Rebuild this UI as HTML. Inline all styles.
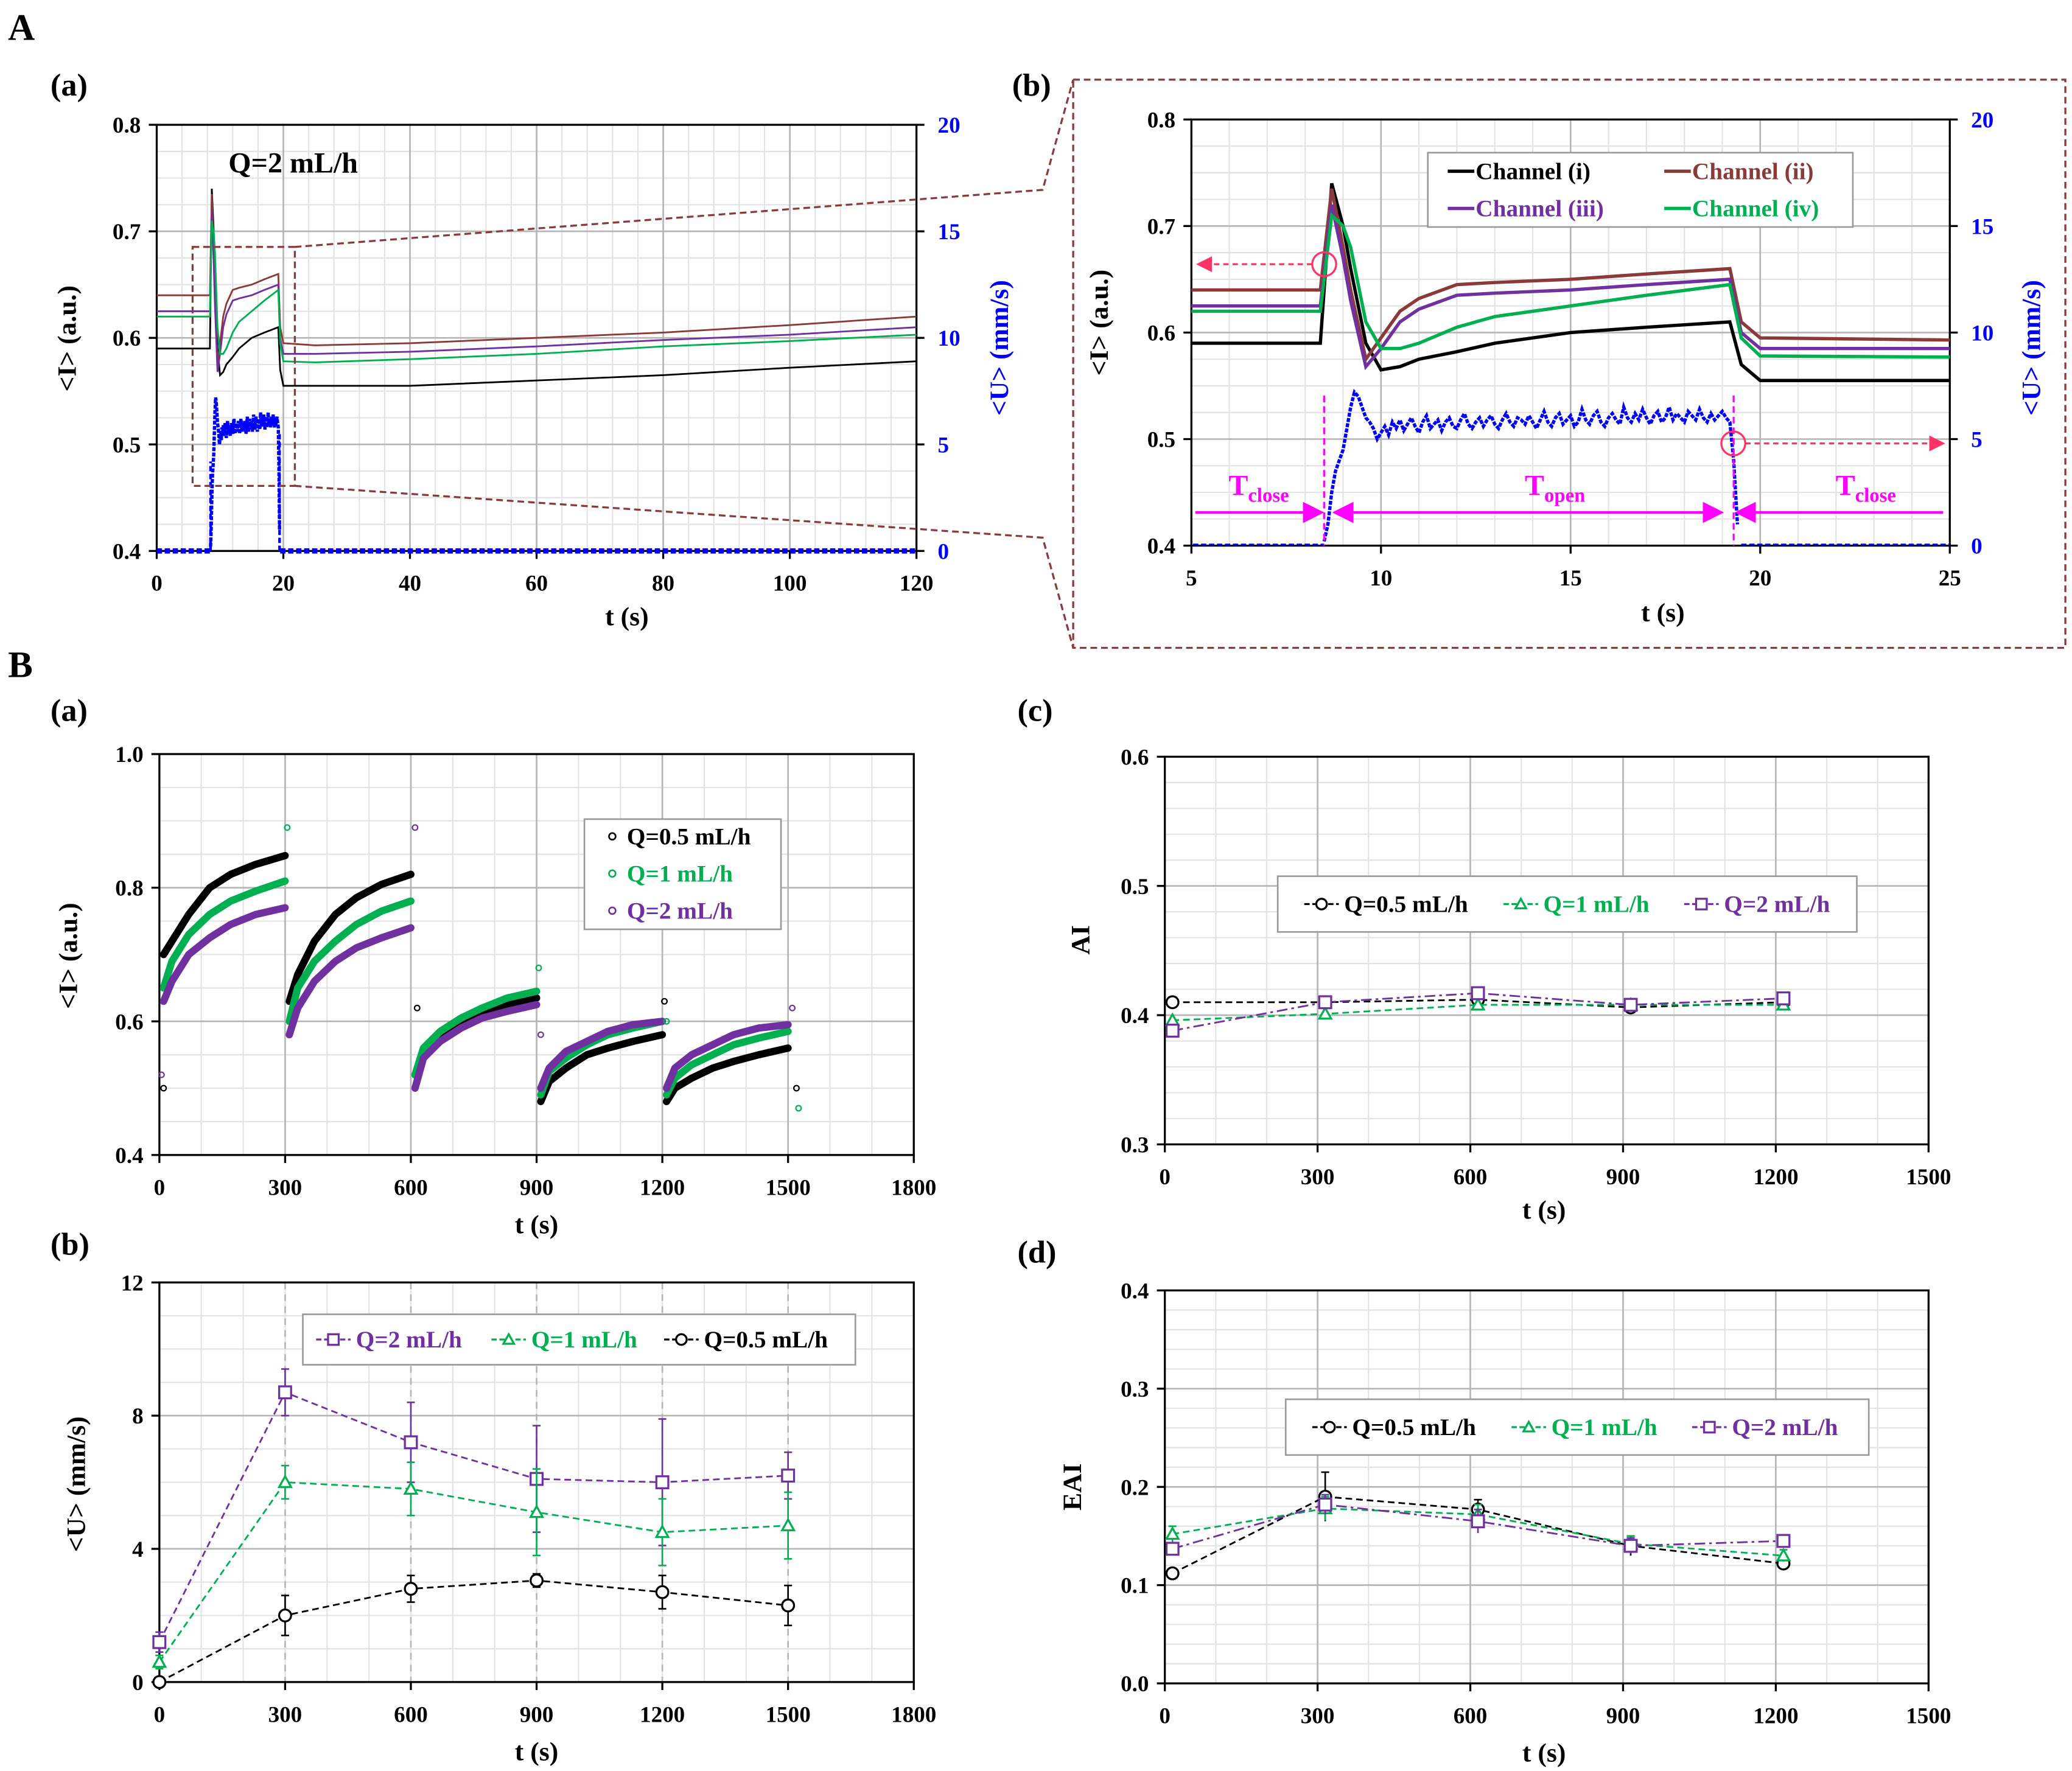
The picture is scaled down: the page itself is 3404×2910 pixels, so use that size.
<!DOCTYPE html>
<html><head><meta charset="utf-8">
<style>
html,body{margin:0;padding:0;background:#fff;}
svg{display:block;font-family:"Liberation Serif",serif;font-weight:bold;}
</style></head>
<body>
<svg id="fig" xmlns="http://www.w3.org/2000/svg" width="3404" height="2910" viewBox="0 0 1560 1334" preserveAspectRatio="none">
<rect x="0" y="0" width="1560" height="1334" fill="#fff"/>
<g font-size="24">
<text x="6" y="30" font-size="28">A</text>
<text x="38" y="72">(a)</text>
<text x="762" y="72">(b)</text>
<text x="6" y="510" font-size="28">B</text>
<text x="38" y="543">(a)</text>
<text x="766" y="543">(c)</text>
<text x="38" y="945">(b)</text>
<text x="766" y="951">(d)</text>
</g>
</svg>
<script>
// ---------- DATA ----------
const chanTimes = [0,8.4,8.7,9.0,9.2,9.6,10,10.5,11,12,13,15,17,19.2,19.5,20,25,40,60,80,100,120];
const chan1 = [0.59,0.59,0.74,0.70,0.66,0.59,0.565,0.568,0.575,0.582,0.59,0.60,0.605,0.61,0.57,0.555,0.555,0.555,0.56,0.565,0.572,0.578];
const chan2 = [0.64,0.64,0.735,0.68,0.64,0.575,0.595,0.62,0.632,0.645,0.647,0.65,0.655,0.66,0.61,0.595,0.593,0.595,0.60,0.605,0.612,0.62];
const chan3 = [0.625,0.625,0.72,0.67,0.63,0.568,0.585,0.61,0.622,0.635,0.637,0.64,0.645,0.65,0.60,0.585,0.585,0.587,0.592,0.598,0.603,0.61];
const chan4 = [0.62,0.62,0.71,0.70,0.68,0.61,0.585,0.585,0.59,0.605,0.615,0.625,0.635,0.645,0.595,0.578,0.577,0.58,0.585,0.592,0.597,0.603];
const uStart = 8.5, uStep = 0.1;
const uValues = [0.2,1,2.5,3.5,4,4.5,5.5,6.5,7.2,7,6.5,6,5.8,5.5,5,5.3,5.6,5.2,5.8,5.5,5.9,5.4,5.7,6,5.6,5.3,5.8,6.1,5.5,5.7,5.9,5.4,5.8,6,5.6,5.5,5.9,6.2,5.7,5.5,5.8,6,5.6,5.9,6.1,5.7,5.5,5.9,6.2,5.8,5.6,6,5.9,5.7,6.1,5.8,5.5,5.9,6.3,5.8,5.6,6,6.2,5.7,5.9,6.1,5.6,5.8,6.4,5.9,5.7,6.1,6.3,5.8,5.6,6,6.2,5.9,5.7,6.5,6,5.8,6.2,5.9,6.4,6,5.7,6.1,6.3,5.8,6,6.5,5.9,6.2,6,5.8,6.3,6.1,5.9,6.4,6,5.8,6.2,5.9,6.1,6.3,6,5.8,4,1];
const zeroSegs = [[0,8.5],[19.5,120]];

const segStarts = [0,300,600,900,1200];
const segOffsets = [10,30,70,120,170,230,300];
const baBlack = [[0.70,0.72,0.76,0.80,0.82,0.835,0.848],[0.63,0.67,0.72,0.76,0.785,0.805,0.82],[0.52,0.55,0.575,0.595,0.61,0.625,0.635],[0.48,0.51,0.53,0.55,0.56,0.57,0.58],[0.48,0.50,0.515,0.53,0.54,0.55,0.56]];
const baGreen = [[0.65,0.69,0.73,0.76,0.78,0.795,0.81],[0.60,0.65,0.69,0.72,0.745,0.765,0.78],[0.52,0.56,0.585,0.605,0.62,0.635,0.645],[0.49,0.525,0.545,0.565,0.58,0.59,0.60],[0.49,0.515,0.535,0.55,0.565,0.575,0.585]];
const baPurple = [[0.63,0.66,0.70,0.725,0.745,0.76,0.77],[0.58,0.62,0.66,0.69,0.71,0.725,0.74],[0.50,0.545,0.57,0.59,0.605,0.615,0.625],[0.50,0.53,0.555,0.57,0.585,0.595,0.60],[0.50,0.53,0.55,0.565,0.58,0.59,0.595]];
const baOutT = [5,10,305,610,615,905,910,1205,1210,1510,1520,1525];
const baOutV = [0.52,0.50,0.89,0.89,0.62,0.68,0.58,0.63,0.60,0.62,0.50,0.47];

const bbT = [0,300,600,900,1200,1500];
const bbQ2 = [1.2,8.7,7.2,6.1,6.0,6.2];
const bbQ2e = [0.3,0.7,1.2,1.6,1.9,0.7];
const bbQ1 = [0.6,6.0,5.8,5.1,4.5,4.7];
const bbQ1e = [0.2,0.5,0.8,1.3,1.0,1.0];
const bbQ05 = [0,2.0,2.8,3.05,2.7,2.3];
const bbQ05e = [0,0.6,0.4,0.2,0.5,0.6];

const cdT = [15,315,615,915,1215];
const bcQ05 = [0.41,0.41,0.412,0.406,0.41];
const bcQ1 = [0.396,0.401,0.408,0.408,0.408];
const bcQ2 = [0.388,0.41,0.417,0.408,0.413];
const bdQ05 = [0.112,0.19,0.177,0.14,0.122];
const bdQ05e = [0,0.025,0.01,0.01,0.005];
const bdQ1 = [0.152,0.178,0.172,0.142,0.13];
const bdQ1e = [0.008,0.012,0.01,0.008,0.006];
const bdQ2 = [0.137,0.182,0.165,0.14,0.145];
const bdQ2e = [0.006,0.01,0.012,0.008,0.006];

// ---------- HELPERS ----------
const NS = 'http://www.w3.org/2000/svg';
const svg = document.getElementById('fig');
const BLACK='#000', GREEN='#00b050', PURPLE='#7030a0', BROWN='#8b3a3a', BLUE='#0000ff', MAG='#ff00ff', RED='#c0504d';
function mk(tag, attrs, parent, name) {
  const e = document.createElementNS(NS, tag);
  for (const k in attrs) e.setAttribute(k, attrs[k]);
  
  
  (parent || svg).appendChild(e);
  return e;
}
function txt(x, y, s, size, parent, name, extra) {
  const a = Object.assign({x:x, y:y, 'font-size':size}, extra || {});
  const t = mk('text', a, parent, name);
  t.textContent = s;
  return t;
}
function axes(c) {
  const g = mk('g', {}, svg, c.name);
  const sx = v => c.x0 + (v - c.xmin) / (c.xmax - c.xmin) * (c.x1 - c.x0);
  const sy = v => c.y1 - (v - c.ymin) / (c.ymax - c.ymin) * (c.y1 - c.y0);
  // minor grid
  for (let v = c.xmin; v <= c.xmax + 1e-9; v += c.xminor) mk('line', {x1:sx(v), x2:sx(v), y1:c.y0, y2:c.y1, stroke:'#e3e3e3', 'stroke-width':1}, g, 'x-minor-grid');
  for (let v = c.ymin; v <= c.ymax + 1e-9; v += c.yminor) mk('line', {x1:c.x0, x2:c.x1, y1:sy(v), y2:sy(v), stroke:'#e3e3e3', 'stroke-width':1}, g, 'y-minor-grid');
  for (let v = c.xmin; v <= c.xmax + 1e-9; v += c.xmajor) mk('line', {x1:sx(v), x2:sx(v), y1:c.y0, y2:c.y1, stroke:'#b5b5b5', 'stroke-width':1.2, 'stroke-dasharray': c.dash || 'none'}, g, 'x-major-grid');
  for (let v = c.ymin; v <= c.ymax + 1e-9; v += c.ymajor) mk('line', {x1:c.x0, x2:c.x1, y1:sy(v), y2:sy(v), stroke:'#b5b5b5', 'stroke-width':1.2}, g, 'y-major-grid');
  mk('rect', {x:c.x0, y:c.y0, width:c.x1 - c.x0, height:c.y1 - c.y0, fill:'none', stroke:'#000', 'stroke-width':1.5}, g, 'plot-frame');
  for (let v = c.xmin; v <= c.xmax + 1e-9; v += c.xmajor) {
    mk('line', {x1:sx(v), x2:sx(v), y1:c.y1, y2:c.y1 + 6, stroke:'#000', 'stroke-width':1.5}, g, 'x-tick');
    txt(sx(v), c.y1 + 30, String(+v.toFixed(2)), 17, g, 'x-tick-label', {'text-anchor':'middle'});
  }
  for (let v = c.ymin; v <= c.ymax + 1e-9; v += c.ymajor) {
    mk('line', {x1:c.x0 - 6, x2:c.x0, y1:sy(v), y2:sy(v), stroke:'#000', 'stroke-width':1.5}, g, 'y-tick');
    txt(c.x0 - 12, sy(v) + 6, v.toFixed(c.ydec), 17, g, 'y-tick-label', {'text-anchor':'end'});
  }
  return {sx, sy, g};
}
function pts(xs, ys, sx, sy) { return xs.map((x, i) => sx(x) + ',' + sy(ys[i])).join(' '); }
function marker(shape, x, y, col, g, r) {
  r = r || 4.5;
  if (shape === 'o') return mk('circle', {cx:x, cy:y, r:r, fill:'#fff', stroke:col, 'stroke-width':1.5}, g, 'circle-marker');
  if (shape === 's') return mk('rect', {x:x - r, y:y - r, width:2 * r, height:2 * r, fill:'#fff', stroke:col, 'stroke-width':1.5}, g, 'square-marker');
  return mk('polygon', {points:`${x},${y - r} ${x + r},${y + r * 0.8} ${x - r},${y + r * 0.8}`, fill:'#fff', stroke:col, 'stroke-width':1.5}, g, 'triangle-marker');
}
function legendBox(x, y, w, h, g, name) { return mk('rect', {x:x, y:y, width:w, height:h, fill:'#fff', stroke:'#999', 'stroke-width':1.2}, g, name); }
function legEntry(x, y, shape, col, label, g, dash) {
  mk('line', {x1:x, x2:x + 26, y1:y, y2:y, stroke:col, 'stroke-width':1.5, 'stroke-dasharray':dash || 'none'}, g, 'legend-line');
  marker(shape, x + 13, y, col, g, 4);
  txt(x + 30, y + 6, label, 18, g, 'legend-label', {fill:col});
}

// ---------- A(a) ----------
(function () {
  const c = {name:'panel-a-a', x0:118, x1:690, y0:94, y1:415, xmin:0, xmax:120, xmajor:20, xminor:4, ymin:0.4, ymax:0.8, ymajor:0.1, yminor:0.025, ydec:1};
  const {sx, sy, g} = axes(c);
  const su = v => c.y1 - v / 20 * (c.y1 - c.y0);
  for (let v = 0; v <= 20; v += 5) {
    mk('line', {x1:c.x1, x2:c.x1 + 6, y1:su(v), y2:su(v), stroke:'#000', 'stroke-width':1.5}, g, 'right-y-tick');
    txt(c.x1 + 16, su(v) + 6, String(v), 17, g, 'right-y-tick-label', {fill:BLUE});
  }
  [[chan1, BLACK, 'channel-i-line'], [chan2, BROWN, 'channel-ii-line'], [chan3, PURPLE, 'channel-iii-line'], [chan4, GREEN, 'channel-iv-line']].forEach(s => {
    mk('polyline', {points:pts(chanTimes, s[0], sx, sy), fill:'none', stroke:s[1], 'stroke-width':1.3}, g, s[2]);
  });
  zeroSegs.forEach(z => mk('line', {x1:sx(z[0]), x2:sx(z[1]), y1:su(0), y2:su(0), stroke:BLUE, 'stroke-width':4, 'stroke-dasharray':'4 2'}, g, 'velocity-zero-line'));
  const ut = uValues.map((v, i) => uStart + i * uStep);
  mk('polyline', {points:pts(ut, uValues, sx, su), fill:'none', stroke:BLUE, 'stroke-width':2.5, 'stroke-dasharray':'3 1'}, g, 'velocity-line');
  mk('line', {x1:sx(uStart), x2:sx(uStart), y1:su(0), y2:su(uValues[0] + 4), stroke:BLUE, 'stroke-width':2, 'stroke-dasharray':'4 2'}, g, 'velocity-rise');
  mk('line', {x1:sx(19.4), x2:sx(19.4), y1:su(0), y2:su(5.5), stroke:BLUE, 'stroke-width':2, 'stroke-dasharray':'4 2'}, g, 'velocity-fall');
  txt(172, 130, 'Q=2 mL/h', 22, g, 'flow-rate-label');
  txt(472, 471, 't (s)', 20, g, 'x-axis-title', {'text-anchor':'middle'});
  txt(0, 0, '<I> (a.u.)', 20, g, 'y-axis-title', {'text-anchor':'middle', transform:'translate(57,255) rotate(-90)'});
  txt(0, 0, '<U> (mm/s)', 20, g, 'right-y-axis-title', {'text-anchor':'middle', fill:BLUE, transform:'translate(759,262) rotate(-90)'});
  mk('rect', {x:145, y:186, width:77, height:180, fill:'none', stroke:'#8b3a3a', 'stroke-width':1.5, 'stroke-dasharray':'5 3'}, g, 'zoom-box');
})();

// zoom connectors
(function () {
  const g = mk('g', {}, svg, 'zoom-connectors');
  const d = {fill:'none', stroke:'#8b3a3a', 'stroke-width':1.5, 'stroke-dasharray':'5 3'};
  mk('polyline', Object.assign({points:'222,186 785,143 808,60'}, d), g, 'zoom-line-top');
  mk('polyline', Object.assign({points:'222,366 785,405 808,488'}, d), g, 'zoom-line-bottom');
  mk('rect', Object.assign({x:808, y:60, width:747, height:428}, d), g, 'zoom-panel-frame');
})();

// ---------- A(b) ----------
(function () {
  const c = {name:'panel-a-b', x0:897, x1:1468, y0:90, y1:411, xmin:5, xmax:25, xmajor:5, xminor:1, ymin:0.4, ymax:0.8, ymajor:0.1, yminor:0.025, ydec:1};
  const {sx, sy, g} = axes(c);
  const su = v => c.y1 - v / 20 * (c.y1 - c.y0);
  for (let v = 0; v <= 20; v += 5) {
    mk('line', {x1:c.x1, x2:c.x1 + 6, y1:su(v), y2:su(v), stroke:'#000', 'stroke-width':1.5}, g, 'right-y-tick');
    txt(c.x1 + 16, su(v) + 6, String(v), 17, g, 'right-y-tick-label', {fill:BLUE});
  }
  const clip = mk('clipPath', {id:'clipab'}, g, 'clip');
  mk('rect', {x:c.x0, y:c.y0, width:c.x1 - c.x0, height:c.y1 - c.y0}, clip, 'clip-rect');
  const inner = mk('g', {'clip-path':'url(#clipab)'}, g, 'zoomed-series');
  [[chan1, BLACK, 'channel-i-line'], [chan2, BROWN, 'channel-ii-line'], [chan3, PURPLE, 'channel-iii-line'], [chan4, GREEN, 'channel-iv-line']].forEach(s => {
    mk('polyline', {points:pts(chanTimes, s[0], sx, sy), fill:'none', stroke:s[1], 'stroke-width':2.5}, inner, s[2]);
  });
  zeroSegs.forEach(z => mk('line', {x1:sx(z[0]), x2:sx(z[1]), y1:su(0), y2:su(0), stroke:BLUE, 'stroke-width':3, 'stroke-dasharray':'4 2'}, inner, 'velocity-zero-line'));
  const ut = uValues.map((v, i) => uStart + i * uStep);
  mk('polyline', {points:pts(ut, uValues, sx, su), fill:'none', stroke:BLUE, 'stroke-width':2.5, 'stroke-dasharray':'3 1'}, inner, 'velocity-line');
  // annotations
  const dm = {stroke:MAG, 'stroke-width':1.5, 'stroke-dasharray':'5 3'};
  mk('line', Object.assign({x1:sx(8.5), x2:sx(8.5), y1:298, y2:411}, dm), g, 'open-marker');
  mk('line', Object.assign({x1:sx(19.3), x2:sx(19.3), y1:298, y2:411}, dm), g, 'close-marker');
  const defs = mk('defs', {}, g, 'defs');
  const m = mk('marker', {id:'ah', markerWidth:8, markerHeight:8, refX:7, refY:4, orient:'auto-start-reverse'}, defs, 'arrowhead');
  mk('path', {d:'M0,0 L8,4 L0,8 z', fill:MAG}, m, 'arrowhead-path');
  const m2 = mk('marker', {id:'ahr', markerWidth:8, markerHeight:8, refX:7, refY:4, orient:'auto'}, defs, 'arrowhead-red');
  mk('path', {d:'M0,0 L8,4 L0,8 z', fill:'#ff3366'}, m2, 'arrowhead-red-path');
  const ay = 386;
  mk('line', {x1:900, x2:995, y1:ay, y2:ay, stroke:MAG, 'stroke-width':2, 'marker-end':'url(#ah)'}, g, 't-close-arrow');
  mk('line', {x1:1005, x2:1296, y1:ay, y2:ay, stroke:MAG, 'stroke-width':2, 'marker-end':'url(#ah)', 'marker-start':'url(#ah)'}, g, 't-open-arrow');
  mk('line', {x1:1308, x2:1463, y1:ay, y2:ay, stroke:MAG, 'stroke-width':2, 'marker-start':'url(#ah)'}, g, 't-close-arrow-2');
  const t1 = txt(925, 373, 'T', 22, g, 't-close-label', {fill:MAG}); const s1 = document.createElementNS(NS, 'tspan'); s1.setAttribute('font-size', '15'); s1.setAttribute('dy', '5'); s1.textContent = 'close'; t1.appendChild(s1);
  const t2 = txt(1148, 373, 'T', 22, g, 't-open-label', {fill:MAG}); const s2 = document.createElementNS(NS, 'tspan'); s2.setAttribute('font-size', '15'); s2.setAttribute('dy', '5'); s2.textContent = 'open'; t2.appendChild(s2);
  const t3 = txt(1382, 373, 'T', 22, g, 't-close-label-2', {fill:MAG}); const s3 = document.createElementNS(NS, 'tspan'); s3.setAttribute('font-size', '15'); s3.setAttribute('dy', '5'); s3.textContent = 'close'; t3.appendChild(s3);
  mk('circle', {cx:997, cy:199, r:9, fill:'none', stroke:'#ff3366', 'stroke-width':1.5}, g, 'baseline-circle');
  mk('line', {x1:988, x2:902, y1:199, y2:199, stroke:'#ff3366', 'stroke-width':1.5, 'stroke-dasharray':'4 3', 'marker-end':'url(#ahr)'}, g, 'left-axis-arrow');
  mk('circle', {cx:1305, cy:334, r:9, fill:'none', stroke:'#ff3366', 'stroke-width':1.5}, g, 'velocity-circle');
  mk('line', {x1:1314, x2:1463, y1:334, y2:334, stroke:'#ff3366', 'stroke-width':1.5, 'stroke-dasharray':'4 3', 'marker-end':'url(#ahr)'}, g, 'right-axis-arrow');
  // legend
  const lg = mk('g', {}, g, 'channel-legend');
  legendBox(1075, 115, 320, 56, lg, 'legend-box');
  [[1090, 135, BLACK, 'Channel (i)'], [1253, 135, BROWN, 'Channel (ii)'], [1090, 163, PURPLE, 'Channel (iii)'], [1253, 163, GREEN, 'Channel (iv)']].forEach(e => {
    mk('line', {x1:e[0], x2:e[0] + 20, y1:e[1] - 6, y2:e[1] - 6, stroke:e[2], 'stroke-width':2.5}, lg, 'legend-line');
    txt(e[0] + 21, e[1], e[3], 18, lg, 'legend-label', {fill:e[2]});
  });
  txt(1252, 468, 't (s)', 20, g, 'x-axis-title', {'text-anchor':'middle'});
  txt(0, 0, '<I> (a.u.)', 20, g, 'y-axis-title', {'text-anchor':'middle', transform:'translate(834,243) rotate(-90)'});
  txt(0, 0, '<U> (mm/s)', 20, g, 'right-y-axis-title', {'text-anchor':'middle', fill:BLUE, transform:'translate(1536,262) rotate(-90)'});
})();

// ---------- B(a) ----------
(function () {
  const c = {name:'panel-b-a', x0:120, x1:688, y0:568, y1:870, xmin:0, xmax:1800, xmajor:300, xminor:100, ymin:0.4, ymax:1.0, ymajor:0.2, yminor:0.05, ydec:1};
  const {sx, sy, g} = axes(c);
  [[baBlack, BLACK, 'q05-series'], [baGreen, GREEN, 'q1-series'], [baPurple, PURPLE, 'q2-series']].forEach(s => {
    const sg = mk('g', {}, g, s[2]);
    segStarts.forEach((st, i) => {
      const xs = segOffsets.map(o => st + o);
      mk('polyline', {points:pts(xs, s[0][i], sx, sy), fill:'none', stroke:s[1], 'stroke-width':5.5, 'stroke-linecap':'round', 'stroke-linejoin':'round'}, sg, 'segment-curve');
    });
  });
  baOutT.forEach((t, i) => mk('circle', {cx:sx(t), cy:sy(baOutV[i]), r:2, fill:'none', stroke:i % 3 === 0 ? PURPLE : (i % 3 === 1 ? BLACK : GREEN), 'stroke-width':1}, g, 'outlier-point'));
  const lg = mk('g', {}, g, 'legend');
  legendBox(440, 617, 148, 83, lg, 'legend-box');
  [[636, BLACK, 'Q=0.5 mL/h'], [664, GREEN, 'Q=1 mL/h'], [692, PURPLE, 'Q=2 mL/h']].forEach(e => {
    mk('circle', {cx:461, cy:e[0] - 6, r:2.5, fill:'none', stroke:e[1], 'stroke-width':1.2}, lg, 'legend-marker');
    txt(472, e[0], e[2], 18, lg, 'legend-label', {fill:e[1]});
  });
  txt(404, 929, 't (s)', 20, g, 'x-axis-title', {'text-anchor':'middle'});
  txt(0, 0, '<I> (a.u.)', 20, g, 'y-axis-title', {'text-anchor':'middle', transform:'translate(58,720) rotate(-90)'});
})();

// ---------- B(b) ----------
(function () {
  const c = {name:'panel-b-b', x0:120, x1:688, y0:966, y1:1267, xmin:0, xmax:1800, xmajor:300, xminor:100, ymin:0, ymax:12, ymajor:4, yminor:1, ydec:0, dash:'5 4'};
  const {sx, sy, g} = axes(c);
  [[bbQ2, bbQ2e, PURPLE, 's', 'q2-series'], [bbQ1, bbQ1e, GREEN, 't', 'q1-series'], [bbQ05, bbQ05e, BLACK, 'o', 'q05-series']].forEach(s => {
    const sg = mk('g', {}, g, s[4]);
    bbT.forEach((t, i) => {
      if (s[1][i] > 0) {
        mk('line', {x1:sx(t), x2:sx(t), y1:sy(s[0][i] - s[1][i]), y2:sy(s[0][i] + s[1][i]), stroke:s[2], 'stroke-width':1.2}, sg, 'error-bar');
        mk('line', {x1:sx(t) - 3, x2:sx(t) + 3, y1:sy(s[0][i] + s[1][i]), y2:sy(s[0][i] + s[1][i]), stroke:s[2], 'stroke-width':1.2}, sg, 'error-cap');
        mk('line', {x1:sx(t) - 3, x2:sx(t) + 3, y1:sy(s[0][i] - s[1][i]), y2:sy(s[0][i] - s[1][i]), stroke:s[2], 'stroke-width':1.2}, sg, 'error-cap');
      }
    });
    mk('polyline', {points:pts(bbT, s[0], sx, sy), fill:'none', stroke:s[2], 'stroke-width':1.3, 'stroke-dasharray':'5 3'}, sg, 'series-line');
    bbT.forEach((t, i) => marker(s[3], sx(t), sy(s[0][i]), s[2], sg, 4.5));
  });
  const lg = mk('g', {}, g, 'legend');
  legendBox(228, 990, 416, 38, lg, 'legend-box');
  legEntry(238, 1009, 's', PURPLE, 'Q=2 mL/h', lg, '4 2');
  legEntry(370, 1009, 't', GREEN, 'Q=1 mL/h', lg, '4 2');
  legEntry(500, 1009, 'o', BLACK, 'Q=0.5 mL/h', lg, '4 2');
  txt(404, 1326, 't (s)', 20, g, 'x-axis-title', {'text-anchor':'middle'});
  txt(0, 0, '<U> (mm/s)', 20, g, 'y-axis-title', {'text-anchor':'middle', transform:'translate(64,1118) rotate(-90)'});
})();

// ---------- B(c) & B(d) ----------
function smallPanel(c, series, legY, legX, legW, title, titleX, titleY, xTitleY) {
  const {sx, sy, g} = axes(c);
  series.forEach(s => {
    const sg = mk('g', {}, g, s.name);
    if (s.err) cdT.forEach((t, i) => {
      if (s.err[i] > 0) {
        mk('line', {x1:sx(t), x2:sx(t), y1:sy(s.v[i] - s.err[i]), y2:sy(s.v[i] + s.err[i]), stroke:s.col, 'stroke-width':1.2}, sg, 'error-bar');
        mk('line', {x1:sx(t) - 3, x2:sx(t) + 3, y1:sy(s.v[i] + s.err[i]), y2:sy(s.v[i] + s.err[i]), stroke:s.col, 'stroke-width':1.2}, sg, 'error-cap');
      }
    });
    mk('polyline', {points:pts(cdT, s.v, sx, sy), fill:'none', stroke:s.col, 'stroke-width':1.3, 'stroke-dasharray':s.dash}, sg, 'series-line');
    cdT.forEach((t, i) => marker(s.shape, sx(t), sy(s.v[i]), s.col, sg, 4.5));
  });
  const lg = mk('g', {}, g, 'legend');
  legendBox(legX, legY, legW, 42, lg, 'legend-box');
  legEntry(legX + 20, legY + 21, 'o', BLACK, 'Q=0.5 mL/h', lg, '4 2');
  legEntry(legX + 170, legY + 21, 't', GREEN, 'Q=1 mL/h', lg, '4 2');
  legEntry(legX + 306, legY + 21, 's', PURPLE, 'Q=2 mL/h', lg, '4 2');
  txt((c.x0 + c.x1) / 2 - 2, xTitleY, 't (s)', 20, g, 'x-axis-title', {'text-anchor':'middle'});
  txt(0, 0, title, 20, g, 'y-axis-title', {'text-anchor':'middle', transform:`translate(${titleX},${titleY}) rotate(-90)`});
}
smallPanel({name:'panel-b-c', x0:877, x1:1452, y0:570, y1:862, xmin:0, xmax:1500, xmajor:300, xminor:100, ymin:0.3, ymax:0.6, ymajor:0.1, yminor:0.02, ydec:1},
  [{v:bcQ05, col:BLACK, shape:'o', dash:'5 3', name:'q05-series'}, {v:bcQ1, col:GREEN, shape:'t', dash:'5 3', name:'q1-series'}, {v:bcQ2, col:PURPLE, shape:'s', dash:'8 3 2 3', name:'q2-series'}],
  660, 962, 436, 'AI', 820, 708, 918);
smallPanel({name:'panel-b-d', x0:877, x1:1452, y0:972, y1:1268, xmin:0, xmax:1500, xmajor:300, xminor:100, ymin:0, ymax:0.4, ymajor:0.1, yminor:0.02, ydec:1},
  [{v:bdQ05, err:bdQ05e, col:BLACK, shape:'o', dash:'5 3', name:'q05-series'}, {v:bdQ1, err:bdQ1e, col:GREEN, shape:'t', dash:'5 3', name:'q1-series'}, {v:bdQ2, err:bdQ2e, col:PURPLE, shape:'s', dash:'8 3 2 3', name:'q2-series'}],
  1054, 968, 439, 'EAI', 814, 1120, 1327);
</script>
</body></html>
